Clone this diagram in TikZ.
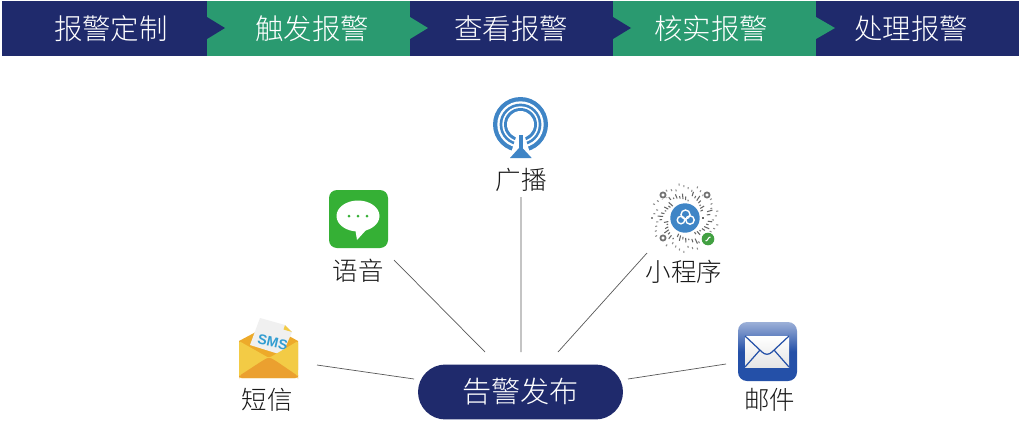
\documentclass[tikz,border=0pt]{standalone}
\usepackage{fontspec}
\setmainfont{Noto Sans CJK SC Light}
\newfontfamily\smsfont{Liberation Sans}
\usetikzlibrary{calc, positioning}
\definecolor{navy}{HTML}{1F2A6C}
\definecolor{teal}{HTML}{2A9A70}
\definecolor{bcblue}{HTML}{3F85C6}
\definecolor{wechat}{HTML}{35B035}
\definecolor{mailblue}{HTML}{2450A8}
\definecolor{envyellow}{HTML}{F3CB45}
\definecolor{envorange}{HTML}{EBA02F}
\tikzset{
	steptext/.style={text=white, font=\fontsize{16.2}{16.2}\selectfont, inner sep=0pt},
	hublabel/.style={fill=navy, text=white, rounded corners=0.55cm, minimum width=4.1cm, minimum height=1.1cm, font=\fontsize{16.6}{16.6}\selectfont, inner sep=0pt},
	iconlabel/.style={text=black!90, font=\fontsize{14.5}{14.5}\selectfont, inner sep=0pt},
	link/.style={draw=black!65, line width=0.4pt}
}
\begin{document}
\begin{tikzpicture}[x=0.02cm,y=-0.02cm]
		\useasboundingbox (0,0) rectangle (1019,443);
		\fill[white] (0,0) rectangle (1019,443);
		
		\fill[navy] (2,0.5) rectangle (207,55.5);
		\fill[teal] (207,0.5) rectangle (410,55.5);
		\fill[navy] (410,0.5) rectangle (613,55.5);
		\fill[teal] (613,0.5) rectangle (816,55.5);
		\fill[navy] (816,0.5) rectangle (1019,55.5);
		\fill[navy] (207,17) -- (225,28) -- (207,39) -- cycle;
		\fill[teal] (410,17) -- (428,28) -- (410,39) -- cycle;
		\fill[navy] (613,17) -- (631,28) -- (613,39) -- cycle;
		\fill[teal] (816,17) -- (835,28) -- (816,39) -- cycle;
		
		\node[steptext] (custom) at (111,29) {报警定制};
		\node[steptext] (trigger) at (312,29) {触发报警};
		\node[steptext] (view) at (511,29) {查看报警};
		\node[steptext] (verify) at (711,29) {核实报警};
		\node[steptext] (handle) at (911,29) {处理报警};
		
		\node[hublabel] (hub) at (520.5,392) {告警发布};
		\node[iconlabel] (broadcast) at (521,180) {广播};
		\node[iconlabel] (voice) at (358,271) {语音};
		\node[iconlabel] (miniapp) at (684,272) {小程序};
		\node[iconlabel] (sms) at (267,400) {短信};
		\node[iconlabel] (mail) at (769.5,400) {邮件};
		
		\draw[link] ([shift={(0,17)}]broadcast.center) -- ([shift={(0.5,-40)}]hub.center);
		\draw[link] ([shift={(36,-11)}]voice.center) -- ([shift={(-35.5,-40)}]hub.center);
		\draw[link] ([shift={(-37,-19)}]miniapp.center) -- ([shift={(37.5,-40)}]hub.center);
		\draw[link] ([shift={(50,-35)}]sms.center) -- ([shift={(-106.5,-13)}]hub.center);
		\draw[link] ([shift={(-43.5,-36)}]mail.center) -- ([shift={(107.5,-13)}]hub.center);
		
		% broadcast
		\coordinate (bc) at (520.5,124.5);
		\fill[bcblue] (bc) circle (27.5);
		\fill[white] (bc) circle (23.2);
		\fill[bcblue] (bc) circle (20.9);
		\fill[white] (bc) circle (18.2);
		\fill[bcblue] (bc) circle (16.5);
		\fill[white] (bc) circle (13.5);
		\fill[white] (517,134) -- (524,134) -- (530,153) -- (511,153) -- cycle;
		\fill[bcblue] (518.7,135) rectangle (522.7,150);
		\fill[bcblue] (519,148) -- (522.5,148) -- (531.7,158) -- (510,158) -- cycle;
		
		% voice
		\fill[wechat, rounded corners=0.16cm] (329,190) rectangle (388,248);
		\fill[white] (358,216) ellipse (21.5 and 15.5);
		\fill[white] (355,228) -- (367,229) -- (357,240) -- cycle;
		\foreach \dotx in {349,358,367}
			\fill[wechat] (\dotx,216) circle (1.5);
		
		% mini program
		\coordinate (qr) at (685,218);
		\foreach \ang in {0,8,...,352} {
			\pgfmathsetmacro{\inner}{17+mod(\ang*13,7)}
			\pgfmathsetmacro{\outer}{\inner+1.5+mod(\ang*11,5)}
			\draw[black!60, line width=0.6pt] ([shift={(\ang:\inner)}]qr) -- ([shift={(\ang:\outer)}]qr);
			\pgfmathsetmacro{\farr}{27+mod(\ang*5,7)}
			\draw[black!45, line width=0.6pt] ([shift={(\ang+4:\farr)}]qr) -- ([shift={(\ang+4:\farr+2)}]qr);
		}
		\foreach \knob in {(663,195),(707,195),(663,238)} {
			\fill[white] \knob circle (4.5);
			\draw[black!55, line width=1pt] \knob circle (2.6);
		}
		\fill[bcblue] (qr) circle (14.7);
		\draw[white, line width=0.8pt] (681,220) circle (3.8);
		\draw[white, line width=0.8pt] (690,220) circle (4.2);
		\draw[white, line width=0.8pt] (685.5,214.5) circle (4.5);
		\fill[white] (708,239) circle (7.2);
		\fill[wechat!85!black!90!white] (708,239) circle (6.3);
		\draw[white, line width=0.6pt] (705.5,241) .. controls (708,241) and (708,237) .. (710.5,237);
		
		% sms
		\fill[envorange!90!yellow] (239,341) -- (269,325) -- (298,341) -- (298,370) -- (239,370) -- cycle;
		\fill[black!6] (260,318) -- (285,325) -- (292,332) -- (282,355) -- (250,345) -- cycle;
		\fill[envyellow] (285,325) -- (292,332) -- (283.5,329.5) -- cycle;
		\node[rotate=-13, text=bcblue!80!cyan, inner sep=0pt, font=\fontsize{8}{8}\smsfont\bfseries] (smstext) at (272.7,342) {SMS};
		\fill[envyellow, rounded corners=0.04cm] (239,341) -- (269,358) -- (298,341) -- (298,378) -- (239,378) -- cycle;
		\fill[envorange, rounded corners=0.06cm] (239,378) -- (239,376) -- (262,361) -- (269,357) -- (276,361) -- (298,376) -- (298,378) -- cycle;
		
		% mail
		\shade[top color=mailblue!45!white, bottom color=mailblue, middle color=mailblue, rounded corners=0.18cm] (738,322) rectangle (797,381);
		\shade[top color=white, bottom color=black!10] (745,336) rectangle (789,367);
		\draw[mailblue, line width=0.7pt] (745,336) -- (762,352) .. controls (765,355) and (769,355) .. (772,352) -- (789,336);
		\draw[mailblue, line width=0.7pt] (745,367) -- (760,350);
		\draw[mailblue, line width=0.7pt] (789,367) -- (774,350);
	\end{tikzpicture}
\end{document}
